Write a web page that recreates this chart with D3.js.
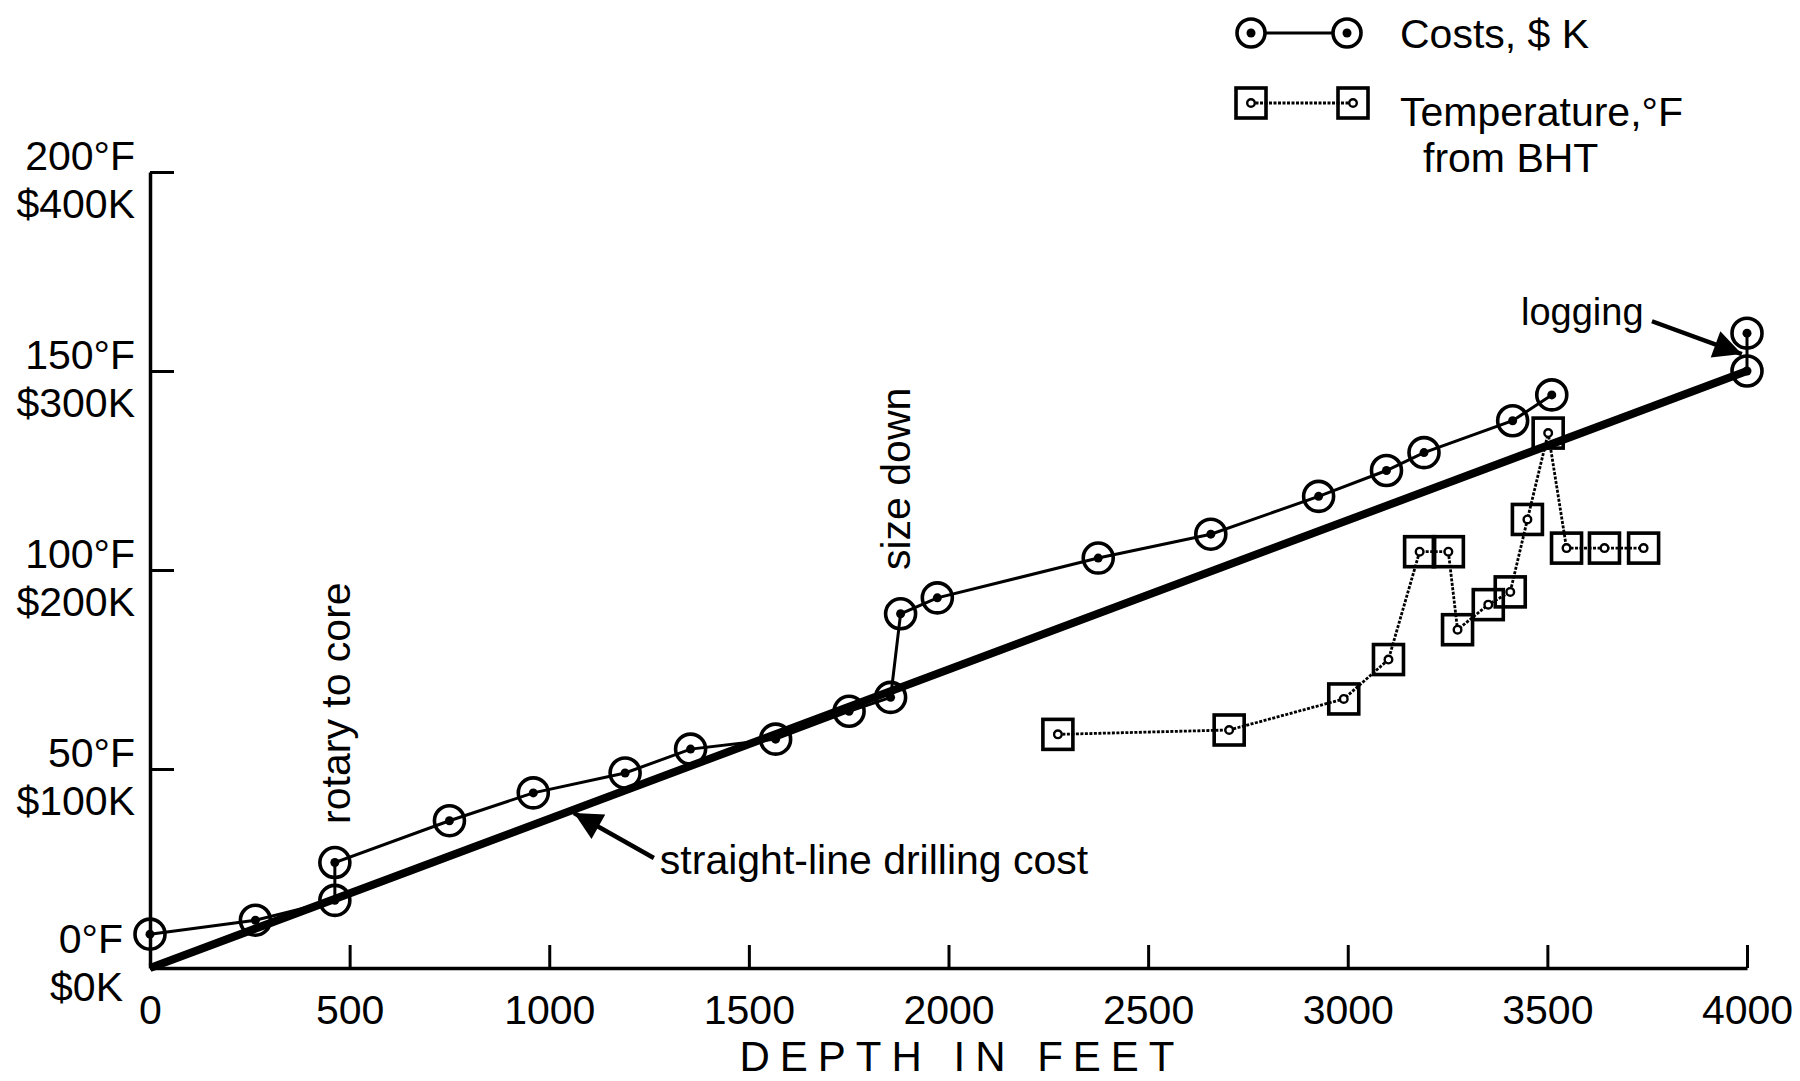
<!DOCTYPE html>
<html lang="en">
<head>
<meta charset="UTF-8">
<title>Costs and temperature vs depth</title>
<script src="https://cdn.jsdelivr.net/npm/d3@7"></script>
<style>
  body { margin: 0; background: #fff; }
  svg text { font-family: "Liberation Sans", Arial, sans-serif; fill: #000; }
</style>
</head>
<body>
<script>
// costs in $K vs depth in feet (null breaks the line before the logging step)
var costDepth = [0, 264, 463, 463, 750, 960, 1190, 1354, 1567, 1751, 1855, 1880, 1972, 2375, 2657, 2927, 3097, 3191, 3413, 3511, null, 4000, 4000];
var costValue = [17, 24, 34, 53, 74, 88, 98, 110, 115, 129, 136, 178, 186, 206, 218, 237, 250, 259, 275, 288, null, 300, 319];

// temperature from BHT, deg F
var tempDepth = [2274, 2703, 2990, 3102, 3180, 3252, 3275, 3352, 3407, 3450, 3502, 3548, 3643, 3741];
var tempValue = [58.7, 59.8, 67.6, 77.5, 104.6, 104.6, 85, 91.3, 94.5, 112.7, 134.4, 105.5, 105.5, 105.5];

// straight-line drilling cost
var straightDepth = [0, 4000];
var straightCost = [0, 300];

var xTicks = [0, 500, 1000, 1500, 2000, 2500, 3000, 3500, 4000];
var tempTicks = [0, 50, 100, 150, 200];
var costTicks = [0, 100, 200, 300, 400];

var width = 1800, height = 1081;
var svg = d3.select("body").append("svg")
    .attr("width", width)
    .attr("height", height);

var x = d3.scaleLinear().domain([0, 4000]).range([150, 1747]);
var yCost = d3.scaleLinear().domain([0, 400]).range([968, 172]);
var yTemp = d3.scaleLinear().domain([0, 200]).range([968, 172]);

var fontSize = 41;

// x axis, ticks pointing up
var xAxis = svg.append("g")
    .attr("transform", "translate(0," + yCost(0) + ")")
    .call(d3.axisBottom(x).tickValues(xTicks).tickSizeInner(-23).tickSizeOuter(0).tickPadding(27).tickFormat(d3.format("d")));
xAxis.select(".domain").attr("stroke-width", 3.5);
xAxis.selectAll(".tick line").attr("stroke-width", 3);
xAxis.selectAll("text").attr("font-size", fontSize).attr("font-family", null);

// y axis, ticks pointing right, two-line labels
var yAxis = svg.append("g")
    .attr("transform", "translate(" + x(0) + ",0)")
    .call(d3.axisLeft(yCost).tickValues(costTicks).tickSizeInner(-24).tickSizeOuter(0).tickPadding(15).tickFormat(""));
yAxis.select(".domain").attr("stroke-width", 3.5);
yAxis.selectAll(".tick line").attr("stroke-width", 3);
yAxis.selectAll(".tick text").remove();

var yLab = svg.append("g").attr("font-size", fontSize).attr("text-anchor", "end");
tempTicks.forEach(function (t, i) {
    var c = costTicks[i];
    var yy = yCost(c);
    var shift = c === 0 ? -13 : 0;
    var dx = c === 0 ? -12 : 0;
    yLab.append("text").attr("x", 135 + dx).attr("y", yy - 2 + shift).text(t + "°F");
    yLab.append("text").attr("x", 135 + dx).attr("y", yy + 46 + shift).text("$" + c + "K");
});

// axis title
svg.append("text")
    .attr("x", 962).attr("y", 1071)
    .attr("text-anchor", "middle")
    .attr("font-size", 42)
    .attr("letter-spacing", 10)
    .text("DEPTH IN FEET");

// straight line
var straight = straightDepth.map(function (d, i) { return [d, straightCost[i]]; });
svg.append("path")
    .datum(straight)
    .attr("fill", "none")
    .attr("stroke", "#000")
    .attr("stroke-width", 8)
    .attr("d", d3.line().x(function (d) { return x(d[0]); }).y(function (d) { return yCost(d[1]); }));

// costs
var costs = costDepth.map(function (d, i) { return [d, costValue[i]]; });
svg.append("path")
    .datum(costs)
    .attr("fill", "none")
    .attr("stroke", "#000")
    .attr("stroke-width", 3)
    .attr("d", d3.line()
        .defined(function (d) { return d[0] !== null; })
        .x(function (d) { return x(d[0]); })
        .y(function (d) { return yCost(d[1]); }));

var costPts = costs.filter(function (d) { return d[0] !== null; });
svg.append("g").selectAll("circle")
    .data(costPts).enter().append("circle")
    .attr("cx", function (d) { return x(d[0]); })
    .attr("cy", function (d) { return yCost(d[1]); })
    .attr("r", 15)
    .attr("fill", "none")
    .attr("stroke", "#000")
    .attr("stroke-width", 3.6);
svg.append("g").selectAll("circle")
    .data(costPts).enter().append("circle")
    .attr("cx", function (d) { return x(d[0]); })
    .attr("cy", function (d) { return yCost(d[1]); })
    .attr("r", 4.5)
    .attr("fill", "#000");

// temperature
var temps = tempDepth.map(function (d, i) { return [d, tempValue[i]]; });
svg.append("path")
    .datum(temps)
    .attr("fill", "none")
    .attr("stroke", "#000")
    .attr("stroke-width", 2.8)
    .attr("stroke-dasharray", "3,1.5")
    .attr("d", d3.line().x(function (d) { return x(d[0]); }).y(function (d) { return yTemp(d[1]); }));

svg.append("g").selectAll("rect")
    .data(temps).enter().append("rect")
    .attr("x", function (d) { return x(d[0]) - 15; })
    .attr("y", function (d) { return yTemp(d[1]) - 15; })
    .attr("width", 30).attr("height", 30)
    .attr("fill", "none")
    .attr("stroke", "#000")
    .attr("stroke-width", 3.6);
svg.append("g").selectAll("circle")
    .data(temps).enter().append("circle")
    .attr("cx", function (d) { return x(d[0]); })
    .attr("cy", function (d) { return yTemp(d[1]); })
    .attr("r", 3.8)
    .attr("fill", "#fff")
    .attr("stroke", "#000")
    .attr("stroke-width", 2.4);

// annotations
svg.append("defs").append("marker")
    .attr("id", "head")
    .attr("viewBox", "0 0 10 10")
    .attr("refX", 10).attr("refY", 5)
    .attr("markerUnits", "userSpaceOnUse")
    .attr("markerWidth", 34).attr("markerHeight", 28)
    .attr("orient", "auto")
    .append("path").attr("d", "M0,0 L10,5 L0,10 Z").attr("fill", "#000");

var arrows = [
    {from: [1262, 55.3], to: [1062, 77.9]},
    {from: [3762, 325], to: [3987, 308.5]}
];
svg.append("g").selectAll("line")
    .data(arrows).enter().append("line")
    .attr("x1", function (d) { return x(d.from[0]); })
    .attr("y1", function (d) { return yCost(d.from[1]); })
    .attr("x2", function (d) { return x(d.to[0]); })
    .attr("y2", function (d) { return yCost(d.to[1]); })
    .attr("stroke", "#000")
    .attr("stroke-width", 4.5)
    .attr("marker-end", "url(#head)");

var notes = [
    {text: "straight-line drilling cost", d: 1277, c: 47.2, rot: 0, size: 41},
    {text: "logging", d: 3434, c: 323, rot: 0, size: 38},
    {text: "rotary to core", d: 501, c: 72.4, rot: -90, size: 41},
    {text: "size down", d: 1904, c: 200, rot: -90, size: 41}
];
svg.append("g").selectAll("text")
    .data(notes).enter().append("text")
    .attr("font-size", function (d) { return d.size; })
    .attr("transform", function (d) {
        return "translate(" + x(d.d) + "," + yCost(d.c) + ") rotate(" + d.rot + ")";
    })
    .text(function (d) { return d.text; });

// legend
var lg = svg.append("g");
lg.append("line").attr("x1", 1251).attr("x2", 1347).attr("y1", 33).attr("y2", 33)
    .attr("stroke", "#000").attr("stroke-width", 3);
[1251, 1347].forEach(function (cx) {
    lg.append("circle").attr("cx", cx).attr("cy", 33).attr("r", 14)
        .attr("fill", "#fff").attr("stroke", "#000").attr("stroke-width", 3.6);
    lg.append("circle").attr("cx", cx).attr("cy", 33).attr("r", 4.5).attr("fill", "#000");
});
lg.append("text").attr("x", 1400).attr("y", 48).attr("font-size", fontSize).text("Costs, $ K");

lg.append("line").attr("x1", 1251).attr("x2", 1353).attr("y1", 103).attr("y2", 103)
    .attr("stroke", "#000").attr("stroke-width", 2.8).attr("stroke-dasharray", "3,1.5");
[1251, 1353].forEach(function (cx) {
    lg.append("rect").attr("x", cx - 15).attr("y", 88).attr("width", 30).attr("height", 30)
        .attr("fill", "none").attr("stroke", "#000").attr("stroke-width", 3.6);
    lg.append("circle").attr("cx", cx).attr("cy", 103).attr("r", 3.8)
        .attr("fill", "#fff").attr("stroke", "#000").attr("stroke-width", 2.4);
});
lg.append("text").attr("x", 1400).attr("y", 126).attr("font-size", fontSize).text("Temperature,°F");
lg.append("text").attr("x", 1423).attr("y", 172).attr("font-size", fontSize).text("from BHT");
</script>
</body>
</html>
